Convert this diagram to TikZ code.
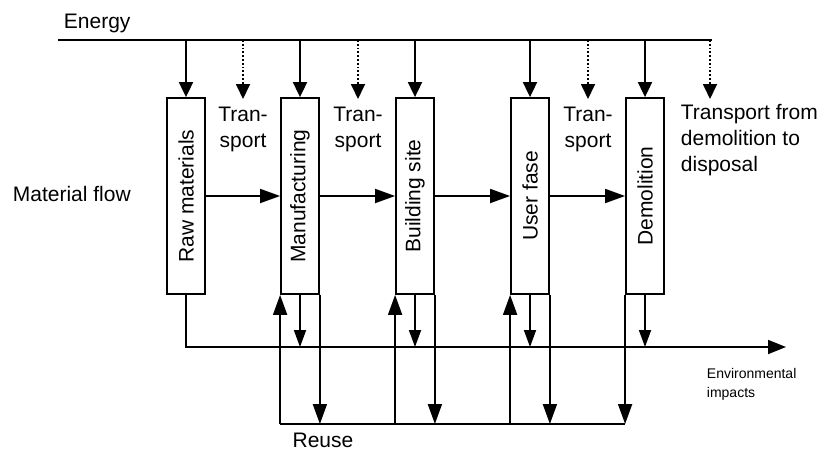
\documentclass[tikz,border=0pt]{standalone}
\usepackage{fontspec}
\setmainfont{Liberation Sans}
\usetikzlibrary{arrows.meta,positioning}
\tikzset{
  stage/.style={draw,minimum width=38pt,minimum height=196pt,inner sep=0pt,font=\fontsize{21}{26}\selectfont},
  lbl/.style={font=\fontsize{21}{26}\selectfont,inner sep=0pt},
  flow/.style={-{Triangle[length=20pt,width=14pt]}},
  feed/.style={-{Triangle[length=15pt,width=14pt]}},
  emit/.style={-{Triangle[length=17pt,width=12pt]}},
}
\begin{document}
\begin{tikzpicture}[x=1pt,y=-1pt,line width=1.8pt]
\useasboundingbox (0,0) rectangle (826,452);
% stages of the life cycle
\node[stage] (raw) at (186,196) {\rotatebox{90}{Raw materials}};
\node[stage] (manu) at (300,196) {\rotatebox{90}{Manufacturing}};
\node[stage] (site) at (415,196) {\rotatebox{90}{Building site}};
\node[stage] (user) at (530,196) {\rotatebox{90}{User fase}};
\node[stage] (demo) at (645,196) {\rotatebox{90}{Demolition}};
% energy
\node[lbl,anchor=base west] (energy) at (63,29) {Energy};
\coordinate (eL) at (58,40);
\coordinate (eR) at (712,40);
\draw (eL) -- (eR);
\foreach \s in {raw,manu,site,user,demo}
  \draw[feed] (\s.north |- eL) -- (\s.north);
% transport
\node[lbl,align=center,anchor=north,inner ysep=7pt] (t1) at (243,99) {Tran-\\sport};
\node[lbl,align=center,anchor=north,inner ysep=7pt] (t2) at (358,99) {Tran-\\sport};
\node[lbl,align=center,anchor=north,inner ysep=7pt] (t3) at (588,99) {Tran-\\sport};
\coordinate (t4) at (710,99);
\node[lbl,align=left,anchor=north west] (disp) at (680,103) {Transport from\\demolition to\\disposal};
\foreach \t in {t1,t2,t3,t4}
  \draw[feed,dotted] (\t.north |- eL) -- (\t.north);
% material flow
\node[lbl,anchor=base west] (mat) at (12,201) {Material flow};
\draw[flow] (raw) -- (manu);
\draw[flow] (manu) -- (site);
\draw[flow] (site) -- (user);
\draw[flow] (user) -- (demo);
% environmental impacts
\coordinate (env) at (786,347);
\draw[-{Triangle[length=18pt,width=14pt]}] (raw.south) |- (env);
\foreach \s in {manu,site,user,demo}
  \draw[emit] (\s.south) -- (\s.south |- env);
\node[font=\fontsize{14}{19}\selectfont,align=left,anchor=north west,inner sep=0pt] (imp) at (706,367) {Environmental\\impacts};
% reuse
\coordinate (ru) at (0,424);
\draw (manu.south west |- ru) -- (demo.south west |- ru);
\foreach \s in {manu,site,user} {
  \draw[flow] (\s.south west |- ru) -- (\s.south west);
  \draw[flow] (\s.south east) -- (\s.south east |- ru);
}
\draw[flow] (demo.south west) -- (demo.south west |- ru);
\node[lbl,anchor=base] (reuse) at (323,447) {Reuse};
\end{tikzpicture}
\end{document}
